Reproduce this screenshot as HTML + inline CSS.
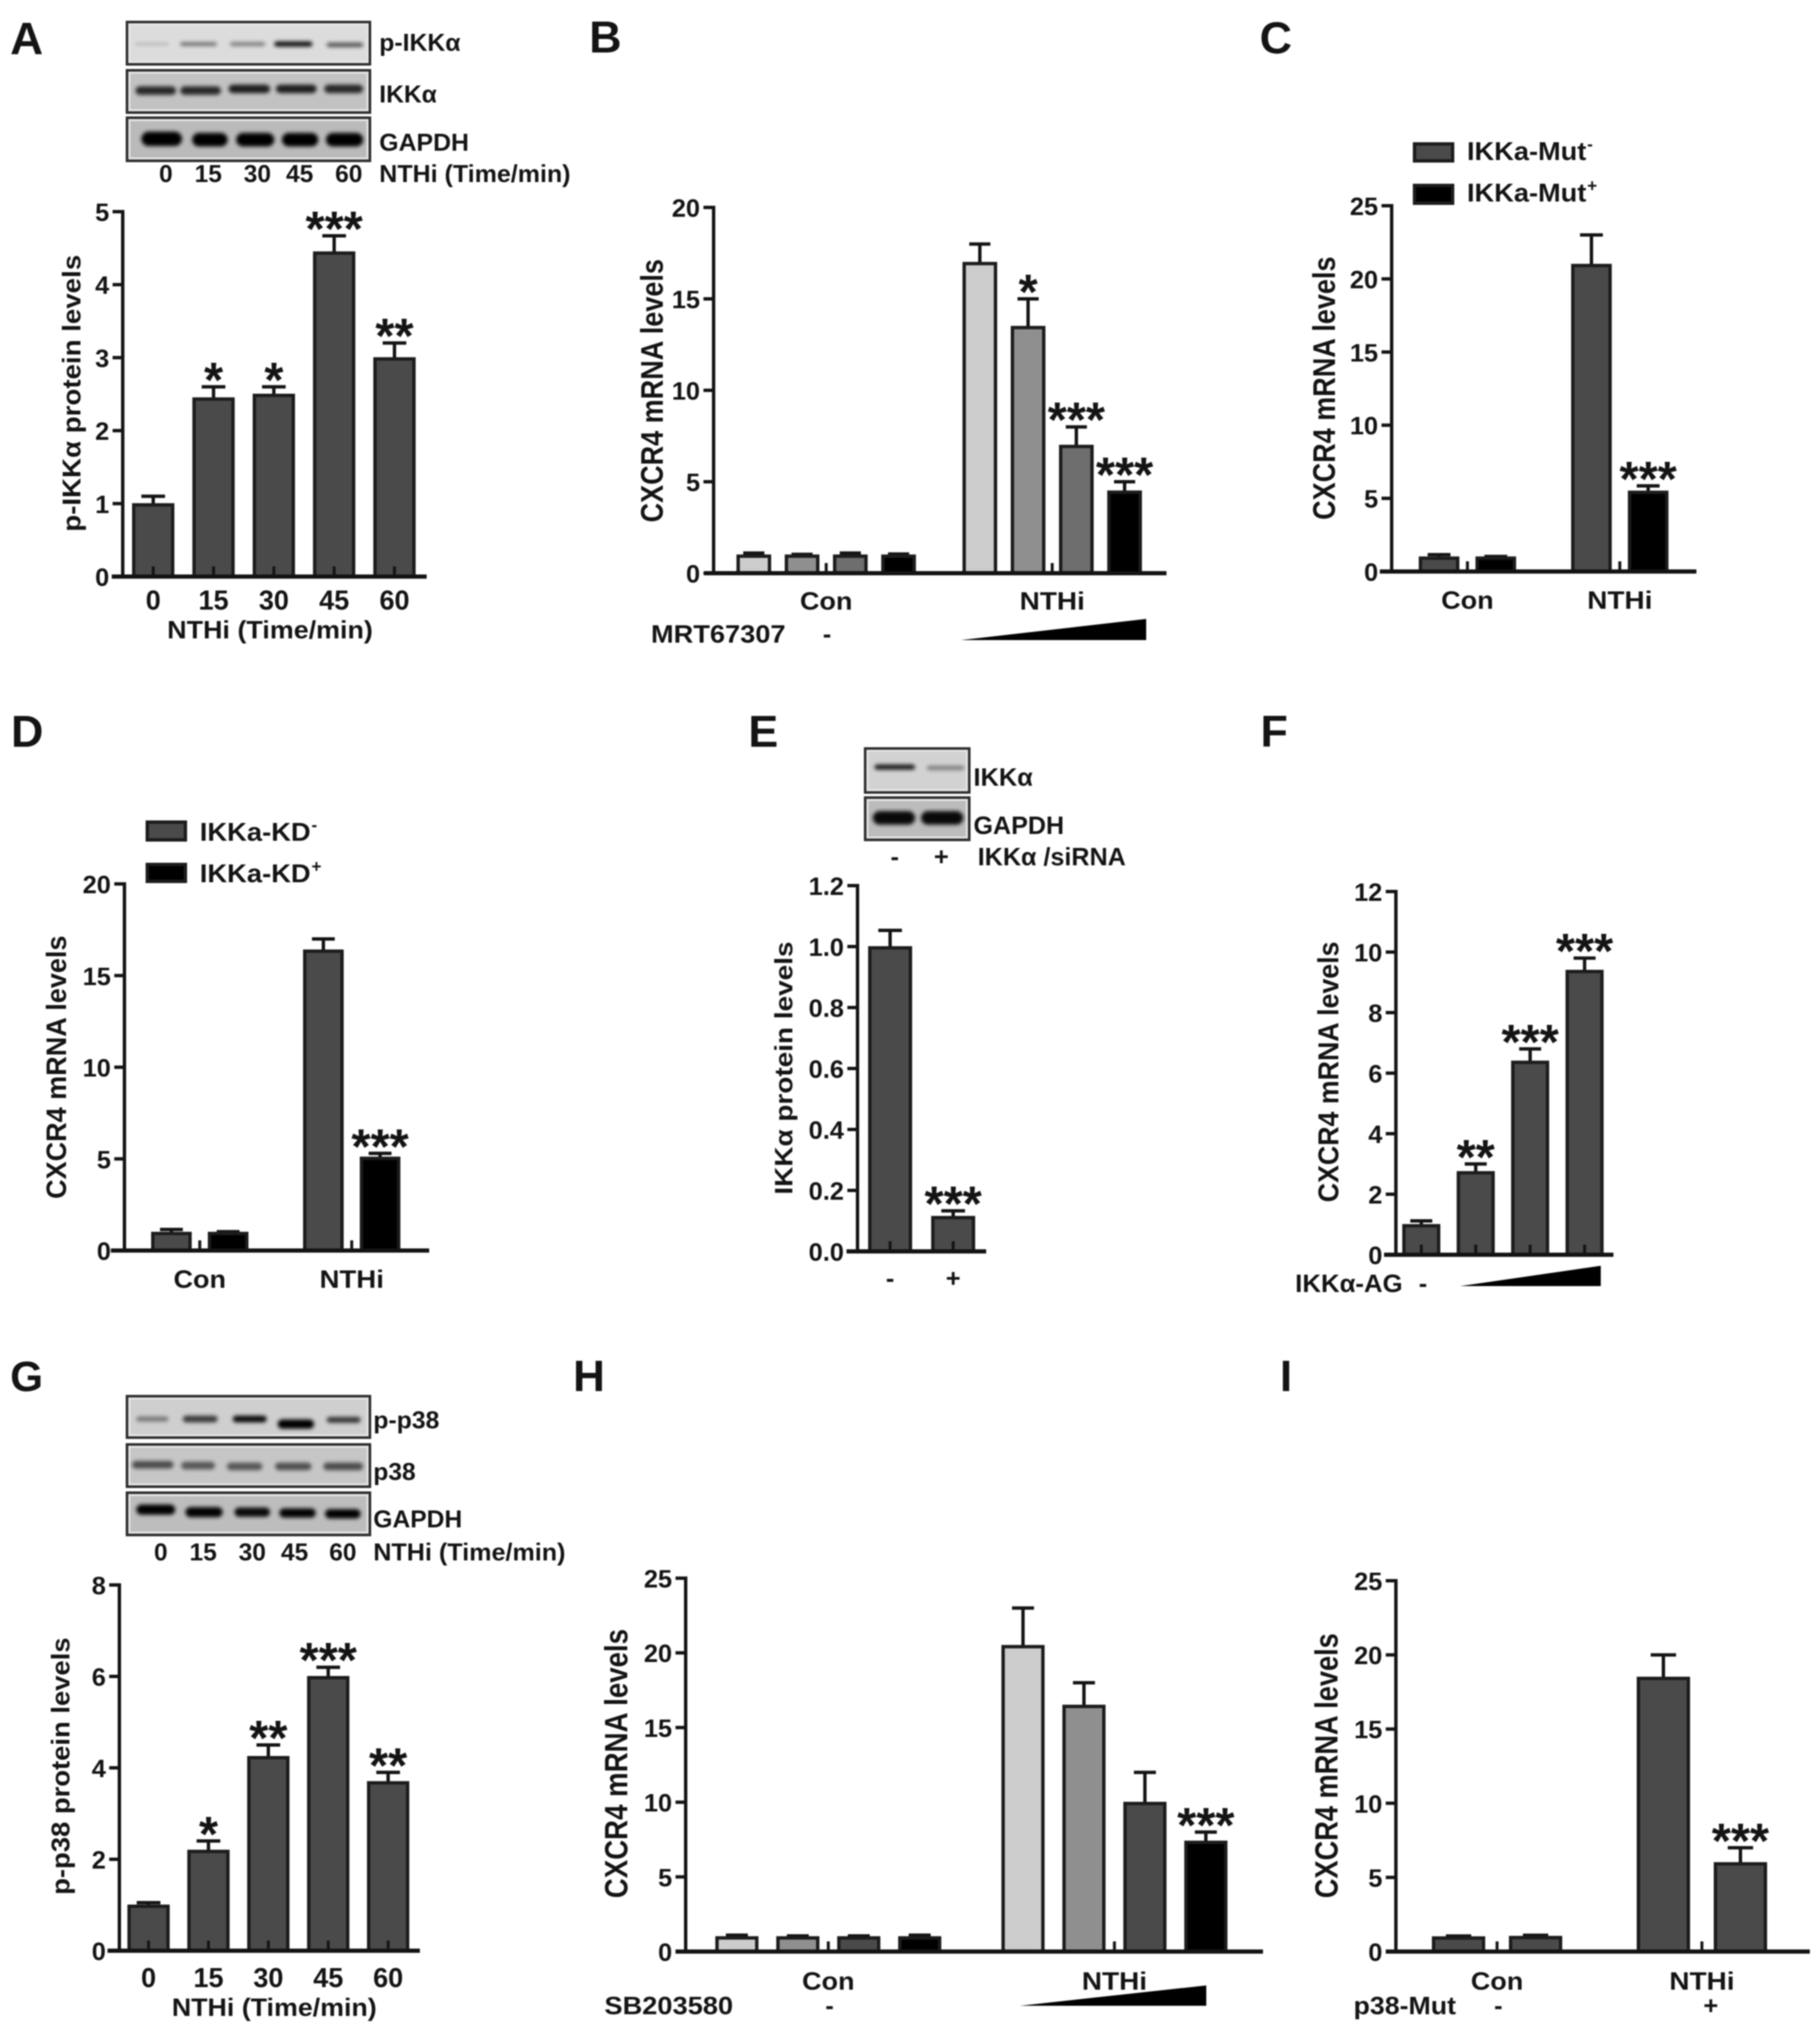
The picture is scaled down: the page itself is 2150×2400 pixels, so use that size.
<!DOCTYPE html>
<html lang="en">
<head>
<meta charset="utf-8">
<title>IKKα and p38 CXCR4 figure</title>
<style>
html,body{margin:0;padding:0;background:#fff;}
#figure{display:block;width:2150px;height:2400px;filter:blur(0.8px);}
text{font-family:"Liberation Sans","DejaVu Sans",sans-serif;font-weight:bold;fill:#141414;}
</style>
</head>
<body>
<svg id="figure" xmlns="http://www.w3.org/2000/svg" width="2150" height="2400" viewBox="0 0 2150 2400">
<defs>
<filter id="band-blur" x="-30%" y="-120%" width="160%" height="340%"><feGaussianBlur stdDeviation="2.4"/></filter>
</defs>
<rect x="0" y="0" width="2150" height="2400" fill="#ffffff"/>
</svg>
<script>
// ---- Panel data ----
const panelACategories = ['0', '15', '30', '45', '60'];
const panelAValues = [1, 2.45, 2.5, 4.45, 3];
const panelAErrorTops = [1.1, 2.6, 2.6, 4.67, 3.2];
const panelAStars = ['', '*', '*', '***', '**'];
const panelATicks = ['0', '1', '2', '3', '4', '5'];

const panelBCategories = ['Con', 'NTHi'];
const panelBValues = [1, 1, 1, 1, 17, 13.5, 7, 4.5];
const panelBErrorTops = [1.1, 1.03, 1.1, 1.05, 18, 15, 8, 5];
const panelBStars = ['', '', '', '', '', '*', '***', '***'];
const panelBTicks = ['0', '5', '10', '15', '20'];

const panelCCategories = ['Con', 'NTHi'];
const panelCValues = [1, 1, 21, 5.5];
const panelCErrorTops = [1.15, 1.03, 23, 5.85];
const panelCStars = ['', '', '', '***'];
const panelCTicks = ['0', '5', '10', '15', '20', '25'];

const panelDCategories = ['Con', 'NTHi'];
const panelDValues = [1, 1, 16.4, 5.1];
const panelDErrorTops = [1.15, 1.03, 17, 5.3];
const panelDStars = ['', '', '', '***'];
const panelDTicks = ['0', '5', '10', '15', '20'];

const panelECategories = ['-', '+'];
const panelEValues = [1, 0.115];
const panelEErrorTops = [1.053, 0.133];
const panelEStars = ['', '***'];
const panelETicks = ['0.0', '0.2', '0.4', '0.6', '0.8', '1.0', '1.2'];

const panelFValues = [1, 2.75, 6.4, 9.4];
const panelFErrorTops = [1.12, 3, 6.8, 9.8];
const panelFStars = ['', '**', '***', '***'];
const panelFTicks = ['0', '2', '4', '6', '8', '10', '12'];

const panelGCategories = ['0', '15', '30', '45', '60'];
const panelGValues = [1, 2.2, 4.25, 6, 3.7];
const panelGErrorTops = [1.05, 2.4, 4.5, 6.2, 3.9];
const panelGStars = ['', '*', '**', '***', '**'];
const panelGTicks = ['0', '2', '4', '6', '8'];

const panelHCategories = ['Con', 'NTHi'];
const panelHValues = [1, 1, 1, 1, 20.5, 16.5, 10, 7.4];
const panelHErrorTops = [1.1, 1.05, 1.05, 1.1, 23, 18, 12, 8];
const panelHStars = ['', '', '', '', '', '', '', '***'];
const panelHTicks = ['0', '5', '10', '15', '20', '25'];

const panelICategories = ['Con', 'NTHi'];
const panelIValues = [1, 1.03, 18.5, 6];
const panelIErrorTops = [1.05, 1.1, 20, 7];
const panelIStars = ['', '', '', '***'];
const panelITicks = ['0', '5', '10', '15', '20', '25'];

// ---- Drawing helpers ----
const SVG_NS = 'http://www.w3.org/2000/svg';
const root = document.getElementById('figure');
const INK = '#141414';
const DARK = '#4a4a4a';
const BLACK = '#000000';
const LIGHT = '#cccccc';
const MID = '#8f8f8f';
const MIDDARK = '#6e6e6e';

function makeGroup(name) {
  const g = document.createElementNS(SVG_NS, 'g');
  
  
  root.appendChild(g);
  return g;
}

function addText(parent, name, x, y, str, size, anchor, len, rotate) {
  const el = document.createElementNS(SVG_NS, 'text');
  
  
  el.setAttribute('x', x);
  el.setAttribute('y', y);
  el.setAttribute('font-size', size);
  el.setAttribute('text-anchor', anchor || 'start');
  if (len) {
    el.setAttribute('textLength', len);
    el.setAttribute('lengthAdjust', 'spacingAndGlyphs');
  }
  if (rotate) {
    el.setAttribute('transform', 'rotate(-90 ' + x + ' ' + y + ')');
  }
  el.textContent = str;
  parent.appendChild(el);
  return el;
}

function addLine(parent, name, x1, y1, x2, y2, width) {
  const el = document.createElementNS(SVG_NS, 'line');
  
  
  el.setAttribute('x1', x1);
  el.setAttribute('y1', y1);
  el.setAttribute('x2', x2);
  el.setAttribute('y2', y2);
  el.setAttribute('stroke', INK);
  el.setAttribute('stroke-width', width);
  parent.appendChild(el);
  return el;
}

function addBox(parent, name, x, y, w, h, fill, stroke, sw) {
  const el = document.createElementNS(SVG_NS, 'rect');
  
  
  el.setAttribute('x', x);
  el.setAttribute('y', y);
  el.setAttribute('width', w);
  el.setAttribute('height', h);
  el.setAttribute('fill', fill);
  if (stroke) {
    el.setAttribute('stroke', stroke);
    el.setAttribute('stroke-width', sw);
  }
  parent.appendChild(el);
  return el;
}

function addWedge(parent, name, x1, x2, yBottom, yTop) {
  const el = document.createElementNS(SVG_NS, 'polygon');
  
  
  el.setAttribute('points', x1 + ',' + yBottom + ' ' + x2 + ',' + yTop + ' ' + x2 + ',' + yBottom);
  el.setAttribute('fill', '#000');
  parent.appendChild(el);
  return el;
}

function drawBarChart(c) {
  const g = makeGroup(c.name);
  const groupSize = c.groupSize || 1;
  const gap = c.gap || 0;
  const yPos = v => c.y0 - (v / c.yMax) * (c.y0 - c.yTop);
  const xPos = i => c.first + i * c.step + Math.floor(i / groupSize) * gap;

  // error bars
  c.values.forEach((v, i) => {
    const cx = xPos(i);
    addLine(g, 'error-stem', cx, yPos(v), cx, yPos(c.errorTops[i]), 4);
    addLine(g, 'error-cap', cx - c.capWidth / 2, yPos(c.errorTops[i]), cx + c.capWidth / 2, yPos(c.errorTops[i]), 4);
  });
  // bars
  c.values.forEach((v, i) => {
    const fill = c.fills[i % c.fills.length];
    const top = yPos(v) + 1.5;
    addBox(g, 'bar', xPos(i) - c.barWidth / 2 + 2, top, c.barWidth - 4, c.y0 - top, fill, '#1c1c1c', 4);
  });
  // significance stars
  c.stars.forEach((s, i) => {
    if (s) {
      addText(g, 'significance-stars', xPos(i), yPos(c.errorTops[i]) + 12, s, 58, 'middle');
    }
  });
  // y axis
  addLine(g, 'y-axis', c.axisX, c.yTop - 2, c.axisX, c.y0 + 2, 4);
  c.ticks.forEach(label => {
    const ty = yPos(parseFloat(label));
    addLine(g, 'y-tick', c.axisX - 12, ty, c.axisX, ty, 4);
    addText(g, 'y-tick-label', c.axisX - 16, ty + 11, label, c.tickFont || 30, 'end');
  });
  // x axis
  addLine(g, 'x-axis', c.xStart, c.y0, c.xEnd, c.y0, 5);
  const tickCount = Math.round(c.values.length / groupSize);
  for (let k = 0; k < tickCount; k++) {
    const tx = (xPos(k * groupSize) + xPos(k * groupSize + groupSize - 1)) / 2;
    addLine(g, 'x-tick', tx, c.y0 - 12, tx, c.y0, 3.5);
    if (c.categories && c.categories[k]) {
      addText(g, 'x-tick-label', tx, c.labelY, c.categories[k], c.labelFont || 30, 'middle', c.labelLen ? c.labelLen[k] : null);
    }
  }
  // y title
  addText(g, 'y-axis-title', c.titleX, (c.titleY1 + c.titleY2) / 2, c.title, c.titleFont, 'middle', c.titleY2 - c.titleY1, true);
  return g;
}

function drawBlot(name, x, y, w, h, bg, bands) {
  const g = makeGroup(name);
  addBox(g, 'blot-background', x, y, w, h, bg, null, 0);
  addBox(g, 'blot-inner-edge', x + 3, y + 3, w - 6, h - 6, 'none', '#e6e6e6', 2);
  bands.forEach(b => {
    const band = addBox(g, 'blot-band', b[0], b[2] - b[3] / 2, b[1] - b[0], b[3], '#000', null, 0);
    band.setAttribute('rx', b[3] / 2);
    band.setAttribute('opacity', b[4]);
    band.setAttribute('filter', 'url(#band-blur)');
  });
  addBox(g, 'blot-frame', x, y, w, h, 'none', '#2e2e2e', 3);
  return g;
}

function drawLegendEntry(name, x, y, w, h, fill, tx, ty, label, len, sup) {
  const g = makeGroup(name);
  addBox(g, 'legend-swatch', x + 2, y + 2, w - 4, h - 4, fill, '#1c1c1c', 4);
  addText(g, 'legend-label', tx, ty, label, 31, 'start', len);
  addText(g, 'legend-superscript', tx + len + 1, ty - 12, sup, 20, 'start');
}

// ---- Panel letters ----
const letters = makeGroup('panel-letters');
addText(letters, 'panel-letter-a', 12, 64, 'A', 54);
addText(letters, 'panel-letter-b', 696, 62, 'B', 53);
addText(letters, 'panel-letter-c', 1488, 63, 'C', 53);
addText(letters, 'panel-letter-d', 13, 882, 'D', 53);
addText(letters, 'panel-letter-e', 884, 882, 'E', 53);
addText(letters, 'panel-letter-f', 1489, 882, 'F', 53);
addText(letters, 'panel-letter-g', 12, 1643, 'G', 50);
addText(letters, 'panel-letter-h', 677, 1643, 'H', 52);
addText(letters, 'panel-letter-i', 1512, 1643, 'I', 52);

// ---- Panel A ----
drawBlot('blot-p-ikk', 150, 26, 287, 50, '#dcdcdc', [
  [160, 199, 52, 3, .18], [213, 256, 52, 4, .55], [272, 313, 52, 4, .5], [324, 369, 52, 6, .95], [386, 429, 53, 5, .65]
]);
drawBlot('blot-ikk', 150, 83, 287, 50, '#c2c2c2', [
  [160, 208, 107, 10, .8], [213, 261, 107, 10, .8], [270, 319, 105, 10, .85], [326, 374, 105, 10, .85], [383, 429, 105, 10, .8]
]);
drawBlot('blot-gapdh-a', 150, 139, 287, 51, '#bababa', [
  [167, 215, 164, 17, 1], [227, 269, 165, 16, 1], [279, 324, 165, 16, 1], [333, 376, 165, 16, 1], [385, 429, 165, 16, 1]
]);
const blotLabelsA = makeGroup('blot-labels-a');
addText(blotLabelsA, 'blot-label', 448, 60, 'p-IKKα', 29, 'start', 96);
addText(blotLabelsA, 'blot-label', 448, 121, 'IKKα', 29, 'start', 68);
addText(blotLabelsA, 'blot-label', 448, 178, 'GAPDH', 29, 'start', 106);
addText(blotLabelsA, 'lane-label', 196, 215, '0', 29, 'middle');
addText(blotLabelsA, 'lane-label', 246, 215, '15', 29, 'middle');
addText(blotLabelsA, 'lane-label', 304, 215, '30', 29, 'middle');
addText(blotLabelsA, 'lane-label', 354, 215, '45', 29, 'middle');
addText(blotLabelsA, 'lane-label', 412, 215, '60', 29, 'middle');
addText(blotLabelsA, 'lane-axis-label', 448, 215, 'NTHi (Time/min)', 29, 'start', 226);
const chartA = drawBarChart({
  name: 'chart-a', values: panelAValues, errorTops: panelAErrorTops, stars: panelAStars, ticks: panelATicks,
  categories: panelACategories, fills: [DARK], yMax: 5, y0: 681, yTop: 250, axisX: 145, xStart: 132, xEnd: 504,
  first: 181, step: 71.25, barWidth: 50, capWidth: 28, labelY: 720, labelFont: 32,
  title: 'p-IKKα protein levels', titleX: 95, titleY1: 301, titleY2: 628, titleFont: 31
});
addText(chartA, 'x-axis-title', 319, 754, 'NTHi (Time/min)', 30, 'middle', 243);

// ---- Panel B ----
const chartB = drawBarChart({
  name: 'chart-b', values: panelBValues, errorTops: panelBErrorTops, stars: panelBStars, ticks: panelBTicks,
  categories: panelBCategories, fills: [LIGHT, MID, MIDDARK, BLACK], yMax: 20, y0: 677, yTop: 245, axisX: 843, xStart: 832, xEnd: 1378,
  first: 890.5, step: 57, groupSize: 4, gap: 39, barWidth: 41, capWidth: 25, labelY: 720, labelLen: [62, 77],
  title: 'CXCR4 mRNA levels', titleX: 783, titleY1: 306, titleY2: 617, titleFont: 37
});
addText(chartB, 'treatment-label', 769, 759, 'MRT67307', 30, 'start', 159);
addText(chartB, 'treatment-none', 977, 759, '-', 30, 'middle');
addWedge(chartB, 'dose-wedge', 1135, 1354, 756, 731);

// ---- Panel C ----
drawBarChart({
  name: 'chart-c', values: panelCValues, errorTops: panelCErrorTops, stars: panelCStars, ticks: panelCTicks,
  categories: panelCCategories, fills: [DARK, BLACK], yMax: 25, y0: 675, yTop: 243, axisX: 1644, xStart: 1630, xEnd: 2004,
  first: 1700, step: 67, groupSize: 2, gap: 46, barWidth: 48, capWidth: 27, labelY: 719, labelLen: [62, 77],
  title: 'CXCR4 mRNA levels', titleX: 1577, titleY1: 303, titleY2: 614, titleFont: 37
});
drawLegendEntry('legend-ikka-mut-minus', 1669, 168, 49, 24, DARK, 1733, 189, 'IKKa-Mut', 141, '-');
drawLegendEntry('legend-ikka-mut-plus', 1669, 217, 49, 25, BLACK, 1733, 238, 'IKKa-Mut', 141, '+');

// ---- Panel D ----
drawBarChart({
  name: 'chart-d', values: panelDValues, errorTops: panelDErrorTops, stars: panelDStars, ticks: panelDTicks,
  categories: panelDCategories, fills: [DARK, BLACK], yMax: 20, y0: 1477, yTop: 1044, axisX: 147, xStart: 131, xEnd: 507,
  first: 202.5, step: 67, groupSize: 2, gap: 45.5, barWidth: 48, capWidth: 27, labelY: 1521, labelLen: [62, 76],
  title: 'CXCR4 mRNA levels', titleX: 78, titleY1: 1105, titleY2: 1416, titleFont: 33
});
drawLegendEntry('legend-ikka-kd-minus', 172, 969, 49, 25, DARK, 236, 993, 'IKKa-KD', 131, '-');
drawLegendEntry('legend-ikka-kd-plus', 172, 1019, 49, 24, BLACK, 236, 1042, 'IKKa-KD', 131, '+');

// ---- Panel E ----
drawBlot('blot-ikk-e', 1022, 884, 123, 52, '#d2d2d2', [
  [1033, 1081, 906, 6, .9], [1095, 1139, 907, 5, .42]
]);
drawBlot('blot-gapdh-e', 1022, 942, 123, 50, '#bcbcbc', [
  [1031, 1081, 966, 16, .95], [1088, 1138, 966, 16, .95]
]);
const blotLabelsE = makeGroup('blot-labels-e');
addText(blotLabelsE, 'blot-label', 1150, 928, 'IKKα', 30, 'start', 70);
addText(blotLabelsE, 'blot-label', 1150, 985, 'GAPDH', 30, 'start', 107);
addText(blotLabelsE, 'lane-label', 1057, 1022, '-', 30, 'middle');
addText(blotLabelsE, 'lane-label', 1112, 1022, '+', 30, 'middle');
addText(blotLabelsE, 'lane-axis-label', 1155, 1022, 'IKKα /siRNA', 30, 'start', 175);
drawBarChart({
  name: 'chart-e', values: panelEValues, errorTops: panelEErrorTops, stars: panelEStars, ticks: panelETicks,
  categories: panelECategories, fills: [DARK], yMax: 1.2, y0: 1478, yTop: 1046, axisX: 1013, xStart: 1000, xEnd: 1165,
  first: 1051.5, step: 74.5, barWidth: 52, capWidth: 28, labelY: 1520,
  title: 'IKKα protein levels', titleX: 936, titleY1: 1112, titleY2: 1411, titleFont: 30
});

// ---- Panel F ----
const chartF = drawBarChart({
  name: 'chart-f', values: panelFValues, errorTops: panelFErrorTops, stars: panelFStars, ticks: panelFTicks,
  fills: [DARK], yMax: 12, y0: 1482, yTop: 1053, axisX: 1649, xStart: 1635, xEnd: 1906,
  first: 1679, step: 64.3, barWidth: 45, capWidth: 26, labelY: 1526,
  title: 'CXCR4 mRNA levels', titleX: 1581, titleY1: 1112, titleY2: 1420, titleFont: 34
});
addText(chartF, 'treatment-label', 1530, 1526, 'IKKα-AG', 30, 'start', 127);
addText(chartF, 'treatment-none', 1681, 1526, '-', 30, 'middle');
addWedge(chartF, 'dose-wedge', 1725, 1891, 1519, 1495);

// ---- Panel G ----
drawBlot('blot-p-p38', 150, 1649, 287, 49, '#cfcfcf', [
  [161, 199, 1676, 6, .42], [216, 257, 1676, 8, .72], [275, 315, 1676, 8, .95], [328, 371, 1682, 11, 1], [386, 426, 1677, 7, .75]
]);
drawBlot('blot-p38', 150, 1706, 287, 50, '#c6c6c6', [
  [156, 205, 1730, 9, .62], [214, 254, 1731, 9, .56], [268, 310, 1732, 9, .56], [325, 368, 1732, 9, .6], [382, 429, 1732, 9, .62]
]);
drawBlot('blot-gapdh-g', 150, 1763, 287, 50, '#bdbdbd', [
  [161, 207, 1783, 12, 1], [219, 263, 1786, 12, .98], [277, 319, 1786, 11, .95], [330, 373, 1787, 11, .98], [384, 426, 1788, 11, 1]
]);
const blotLabelsG = makeGroup('blot-labels-g');
addText(blotLabelsG, 'blot-label', 441, 1687, 'p-p38', 29, 'start', 78);
addText(blotLabelsG, 'blot-label', 441, 1748, 'p38', 29, 'start', 50);
addText(blotLabelsG, 'blot-label', 441, 1804, 'GAPDH', 29, 'start', 105);
addText(blotLabelsG, 'lane-label', 190, 1843, '0', 29, 'middle');
addText(blotLabelsG, 'lane-label', 240, 1843, '15', 29, 'middle');
addText(blotLabelsG, 'lane-label', 298, 1843, '30', 29, 'middle');
addText(blotLabelsG, 'lane-label', 348, 1843, '45', 29, 'middle');
addText(blotLabelsG, 'lane-label', 405, 1843, '60', 29, 'middle');
addText(blotLabelsG, 'lane-axis-label', 441, 1843, 'NTHi (Time/min)', 29, 'start', 227);
const chartG = drawBarChart({
  name: 'chart-g', values: panelGValues, errorTops: panelGErrorTops, stars: panelGStars, ticks: panelGTicks,
  categories: panelGCategories, fills: [DARK], yMax: 8, y0: 2304, yTop: 1872, axisX: 141, xStart: 127, xEnd: 496,
  first: 175.5, step: 70.75, barWidth: 50, capWidth: 28, labelY: 2347, labelFont: 32,
  title: 'p-p38 protein levels', titleX: 82, titleY1: 1934, titleY2: 2238, titleFont: 31
});
addText(chartG, 'x-axis-title', 324, 2381, 'NTHi (Time/min)', 30, 'middle', 242);

// ---- Panel H ----
const chartH = drawBarChart({
  name: 'chart-h', values: panelHValues, errorTops: panelHErrorTops, stars: panelHStars, ticks: panelHTicks,
  categories: panelHCategories, fills: [LIGHT, MID, DARK, BLACK], yMax: 25, y0: 2305, yTop: 1864, axisX: 810, xStart: 798, xEnd: 1492,
  first: 870.5, step: 72, groupSize: 4, gap: 50, barWidth: 51, capWidth: 26, labelY: 2350, labelLen: [62, 77],
  title: 'CXCR4 mRNA levels', titleX: 741, titleY1: 1924, titleY2: 2242, titleFont: 38
});
addText(chartH, 'treatment-label', 714, 2379, 'SB203580', 30, 'start', 152);
addText(chartH, 'treatment-none', 980, 2379, '-', 30, 'middle');
addWedge(chartH, 'dose-wedge', 1205, 1425, 2369, 2345);

// ---- Panel I ----
const chartI = drawBarChart({
  name: 'chart-i', values: panelIValues, errorTops: panelIErrorTops, stars: panelIStars, ticks: panelITicks,
  categories: panelICategories, fills: [DARK], yMax: 25, y0: 2305, yTop: 1867, axisX: 1649, xStart: 1637, xEnd: 2138,
  first: 1723, step: 91, groupSize: 2, gap: 60, barWidth: 63, capWidth: 30, labelY: 2350, labelLen: [62, 77],
  title: 'CXCR4 mRNA levels', titleX: 1580, titleY1: 1929, titleY2: 2242, titleFont: 38
});
addText(chartI, 'treatment-label', 1599, 2379, 'p38-Mut', 30, 'start', 121);
addText(chartI, 'treatment-none', 1770, 2379, '-', 30, 'middle');
addText(chartI, 'treatment-present', 2021, 2379, '+', 30, 'middle');
</script>
</body>
</html>
